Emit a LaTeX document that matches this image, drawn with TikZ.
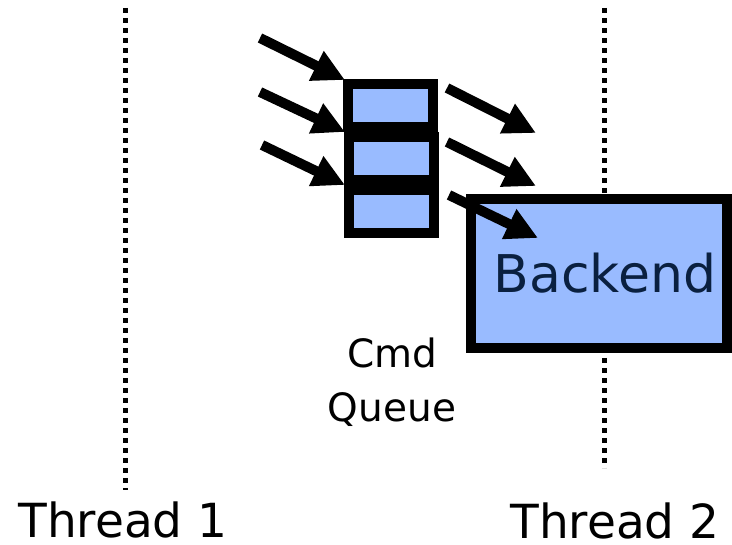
\documentclass[tikz,border=0pt]{standalone}
\usepackage{fontspec}
\setmainfont{DejaVu Sans}
\usetikzlibrary{arrows.meta}
\definecolor{boxblue}{HTML}{99BBFF}
\definecolor{navy}{HTML}{0A2040}
\tikzset{
  qbox/.style={draw=black, fill=boxblue, line width=10pt, minimum width=85pt, minimum height=43pt, inner sep=0pt},
  backbox/.style={draw=black, fill=boxblue, line width=10pt, minimum width=256pt, minimum height=149pt, inner sep=0pt},
  backtext/.style={font=\fontsize{52}{60}\selectfont, text=navy, inner sep=0pt},
  threadline/.style={line width=5pt, dash pattern=on 5pt off 5pt},
  flow/.style={line width=10pt, -{Triangle[length=32pt,width=31pt]}},
  label/.style={font=\fontsize{47}{56}\selectfont, inner sep=0pt},
  qlabel/.style={font=\fontsize{39}{54}\selectfont, align=center, inner sep=0pt}
}
\begin{document}
\begin{tikzpicture}[x=1pt,y=-1pt]
\useasboundingbox (0,0) rectangle (732,545);

% thread timelines
\coordinate (t1top) at (125,8);
\coordinate (t1bot) at (125,490);
\coordinate (t2top) at (604,8);
\coordinate (t2bot) at (604,468);
\draw[threadline] (t1top) -- (t1bot);
\draw[threadline] (t2top) -- (t2bot);

% thread labels
\node[label] (th1) at (123,520) {Thread 1};
\node[label] (th2) at (615,521) {Thread 2};

% backend
\node[backbox] (be) at (599,273.5) {};
\node[backtext] (bet) at (605,273) {Backend};

% command queue
\node[qbox] (q1) at (390.5,105.5) {};
\node[qbox] (q2) at (391,158.5) {};
\node[qbox] (q3) at (391,211.5) {};
\node[qlabel] (ql) at (392,382) {Cmd\\Queue};

% incoming commands
\coordinate (in1) at (260,38);
\coordinate (in2) at (260,92);
\coordinate (in3) at (262,145);
\coordinate (tip1) at (345,80);
\coordinate (tip2) at (345,132);
\coordinate (tip3) at (345,185);
\draw[flow] (in1) -- (tip1);
\draw[flow] (in2) -- (tip2);
\draw[flow] (in3) -- (tip3);

% outgoing commands
\coordinate (out1) at (447,88);
\coordinate (out2) at (447,142);
\coordinate (out3) at (449,195);
\coordinate (end1) at (536,133);
\coordinate (end2) at (536,186);
\coordinate (end3) at (538,238);
\draw[flow] (out1) -- (end1);
\draw[flow] (out2) -- (end2);
\draw[flow] (out3) -- (end3);
\end{tikzpicture}
\end{document}
